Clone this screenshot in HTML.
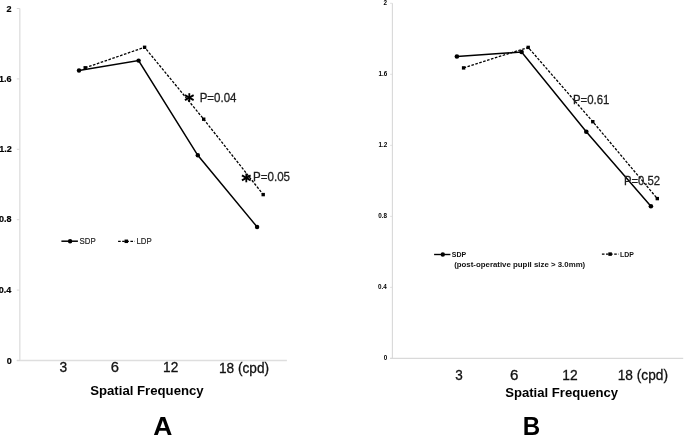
<!DOCTYPE html>
<html><head><meta charset="utf-8"><style>
html,body{margin:0;padding:0;background:#fff;width:685px;height:437px;overflow:hidden}
svg{display:block;will-change:transform}
text{font-family:"Liberation Sans",sans-serif;fill:#000}
.ya{font-size:9px;font-weight:bold;text-anchor:end;stroke:#000;stroke-width:0.2px}
.yb{font-size:6.3px;font-weight:bold;text-anchor:end}
.pv{font-size:12.6px;fill:#1e1e1e;stroke:#1e1e1e;stroke-width:0.3px}
.lg{font-size:9.3px;fill:#1e1e1e;stroke:#1e1e1e;stroke-width:0.2px}
.lb{font-size:7.7px;font-weight:bold;fill:#111}
.xl{font-size:14.3px;fill:#111;stroke:#111;stroke-width:0.3px}
.ti{font-size:13px;font-weight:bold}
.big{font-size:25.6px;font-weight:bold}
</style></head><body>
<svg width="685" height="437" viewBox="0 0 685 437">
<line x1="19.8" y1="8.5" x2="19.8" y2="360.5" stroke="#e2e2e2" stroke-width="1.5"/>
<line x1="16.8" y1="360.5" x2="286.9" y2="360.5" stroke="#dedede" stroke-width="1.4"/>
<line x1="16.8" y1="360.50" x2="19.8" y2="360.50" stroke="#d9d9d9" stroke-width="1"/>
<line x1="16.8" y1="290.10" x2="19.8" y2="290.10" stroke="#d9d9d9" stroke-width="1"/>
<line x1="16.8" y1="219.70" x2="19.8" y2="219.70" stroke="#d9d9d9" stroke-width="1"/>
<line x1="16.8" y1="149.30" x2="19.8" y2="149.30" stroke="#d9d9d9" stroke-width="1"/>
<line x1="16.8" y1="78.90" x2="19.8" y2="78.90" stroke="#d9d9d9" stroke-width="1"/>
<line x1="16.8" y1="8.50" x2="19.8" y2="8.50" stroke="#d9d9d9" stroke-width="1"/>
<polyline points="85.2,67.8 144.6,47.3 203.7,119.2 263.2,194.6" fill="none" stroke="#000" stroke-width="1.3" stroke-dasharray="2.6 1.5" stroke-linejoin="miter"/>
<polyline points="79.0,70.5 138.6,60.6 197.8,155.3 257.1,227.0" fill="none" stroke="#000" stroke-width="1.5" stroke-linejoin="miter"/>
<circle cx="79.0" cy="70.5" r="2.2" fill="#000"/>
<circle cx="138.6" cy="60.6" r="2.2" fill="#000"/>
<circle cx="197.8" cy="155.3" r="2.2" fill="#000"/>
<circle cx="257.1" cy="227.0" r="2.2" fill="#000"/>
<rect x="83.50" y="66.10" width="3.4" height="3.4" fill="#000"/>
<rect x="142.90" y="45.60" width="3.4" height="3.4" fill="#000"/>
<rect x="202.00" y="117.50" width="3.4" height="3.4" fill="#000"/>
<rect x="261.50" y="192.90" width="3.4" height="3.4" fill="#000"/>
<g stroke="#000" stroke-width="1.8" stroke-linecap="butt"><line x1="189.30" y1="93.20" x2="189.30" y2="102.00"/><line x1="184.97" y1="95.10" x2="193.63" y2="100.10"/><line x1="184.97" y1="100.10" x2="193.63" y2="95.10"/></g>
<g stroke="#000" stroke-width="1.8" stroke-linecap="butt"><line x1="246.30" y1="173.50" x2="246.30" y2="182.30"/><line x1="241.97" y1="175.40" x2="250.63" y2="180.40"/><line x1="241.97" y1="180.40" x2="250.63" y2="175.40"/></g>
<line x1="61.4" y1="241.2" x2="77.9" y2="241.2" stroke="#000" stroke-width="1.5"/>
<circle cx="70.1" cy="241.2" r="2.2" fill="#000"/>
<line x1="118.1" y1="241.3" x2="134.8" y2="241.3" stroke="#000" stroke-width="1.3" stroke-dasharray="2.6 1.5"/>
<rect x="124.55" y="239.55" width="3.5" height="3.5" fill="#000"/>
<line x1="392.4" y1="3.3" x2="392.4" y2="358.4" stroke="#d9d9d9" stroke-width="1.1"/>
<line x1="390.2" y1="358.4" x2="683.2" y2="358.4" stroke="#d9d9d9" stroke-width="1.1"/>
<line x1="390.1" y1="358.40" x2="392.4" y2="358.40" stroke="#d9d9d9" stroke-width="0.8"/>
<line x1="390.1" y1="287.38" x2="392.4" y2="287.38" stroke="#d9d9d9" stroke-width="0.8"/>
<line x1="390.1" y1="216.36" x2="392.4" y2="216.36" stroke="#d9d9d9" stroke-width="0.8"/>
<line x1="390.1" y1="145.34" x2="392.4" y2="145.34" stroke="#d9d9d9" stroke-width="0.8"/>
<line x1="390.1" y1="74.32" x2="392.4" y2="74.32" stroke="#d9d9d9" stroke-width="0.8"/>
<line x1="390.1" y1="3.30" x2="392.4" y2="3.30" stroke="#d9d9d9" stroke-width="0.8"/>
<polyline points="463.6,67.9 528.2,47.4 592.8,121.7 657.3,198.6" fill="none" stroke="#000" stroke-width="1.3" stroke-dasharray="2.6 1.5" stroke-linejoin="miter"/>
<polyline points="456.9,56.5 521.6,52.0 586.3,131.8 650.9,206.3" fill="none" stroke="#000" stroke-width="1.5" stroke-linejoin="miter"/>
<circle cx="456.9" cy="56.5" r="2.3" fill="#000"/>
<circle cx="521.6" cy="52.0" r="2.3" fill="#000"/>
<circle cx="586.3" cy="131.8" r="2.3" fill="#000"/>
<circle cx="650.9" cy="206.3" r="2.3" fill="#000"/>
<rect x="461.90" y="66.20" width="3.4" height="3.4" fill="#000"/>
<rect x="526.50" y="45.70" width="3.4" height="3.4" fill="#000"/>
<rect x="591.10" y="120.00" width="3.4" height="3.4" fill="#000"/>
<rect x="655.60" y="196.90" width="3.4" height="3.4" fill="#000"/>
<line x1="434.1" y1="254.5" x2="450.4" y2="254.5" stroke="#000" stroke-width="1.4"/>
<circle cx="442.8" cy="254.5" r="2.2" fill="#000"/>
<line x1="601.9" y1="254.1" x2="618.7" y2="254.1" stroke="#000" stroke-width="1.3" stroke-dasharray="2.6 1.5"/>
<rect x="608.35" y="252.35" width="3.5" height="3.5" fill="#000"/>
<text x="11.55" y="11.50" class="ya">2</text>
<text x="11.60" y="82.05" class="ya">1.6</text>
<text x="11.70" y="151.95" class="ya">1.2</text>
<text x="11.45" y="222.35" class="ya">0.8</text>
<text x="11.30" y="293.35" class="ya">0.4</text>
<text x="11.85" y="363.85" class="ya">0</text>
<text x="199.70" y="102.20" class="pv" textLength="36.80" lengthAdjust="spacingAndGlyphs">P=0.04</text>
<text x="252.95" y="181.40" class="pv" textLength="37.10" lengthAdjust="spacingAndGlyphs">P=0.05</text>
<text x="79.55" y="244.05" class="lg" textLength="16.10" lengthAdjust="spacingAndGlyphs">SDP</text>
<text x="136.45" y="244.20" class="lg" textLength="15.20" lengthAdjust="spacingAndGlyphs">LDP</text>
<text x="59.50" y="372.15" class="xl" textLength="7.65" lengthAdjust="spacingAndGlyphs">3</text>
<text x="110.75" y="372.15" class="xl" textLength="8.20" lengthAdjust="spacingAndGlyphs">6</text>
<text x="163.05" y="372.20" class="xl" textLength="15.21" lengthAdjust="spacingAndGlyphs">12</text>
<text x="219.00" y="372.85" class="xl" textLength="50.10" lengthAdjust="spacingAndGlyphs">18 (cpd)</text>
<text x="90.20" y="394.60" class="ti" textLength="113.48" lengthAdjust="spacingAndGlyphs">Spatial Frequency</text>
<text x="153.20" y="434.85" class="big" textLength="19.13" lengthAdjust="spacingAndGlyphs">A</text>
<text x="387.10" y="5.30" class="yb">2</text>
<text x="387.25" y="76.10" class="yb">1.6</text>
<text x="387.20" y="147.20" class="yb">1.2</text>
<text x="387.10" y="218.20" class="yb">0.8</text>
<text x="386.85" y="289.20" class="yb">0.4</text>
<text x="387.25" y="360.05" class="yb">0</text>
<text x="572.95" y="104.25" class="pv" textLength="36.40" lengthAdjust="spacingAndGlyphs">P=0.61</text>
<text x="623.95" y="185.30" class="pv" textLength="36.20" lengthAdjust="spacingAndGlyphs">P=0.52</text>
<text x="451.80" y="256.85" class="lb" textLength="14.35" lengthAdjust="spacingAndGlyphs">SDP</text>
<text x="454.15" y="266.50" class="lb" textLength="131.10" lengthAdjust="spacingAndGlyphs">(post-operative pupil size &gt; 3.0mm)</text>
<text x="620.05" y="256.65" class="lb" textLength="13.85" lengthAdjust="spacingAndGlyphs">LDP</text>
<text x="455.25" y="379.85" class="xl" textLength="7.50" lengthAdjust="spacingAndGlyphs">3</text>
<text x="510.00" y="379.85" class="xl" textLength="8.40" lengthAdjust="spacingAndGlyphs">6</text>
<text x="562.30" y="379.85" class="xl" textLength="15.36" lengthAdjust="spacingAndGlyphs">12</text>
<text x="617.75" y="380.35" class="xl" textLength="50.20" lengthAdjust="spacingAndGlyphs">18 (cpd)</text>
<text x="505.20" y="396.75" class="ti" textLength="112.98" lengthAdjust="spacingAndGlyphs">Spatial Frequency</text>
<text x="522.65" y="434.90" class="big" textLength="17.43" lengthAdjust="spacingAndGlyphs">B</text>
</svg>
</body></html>
